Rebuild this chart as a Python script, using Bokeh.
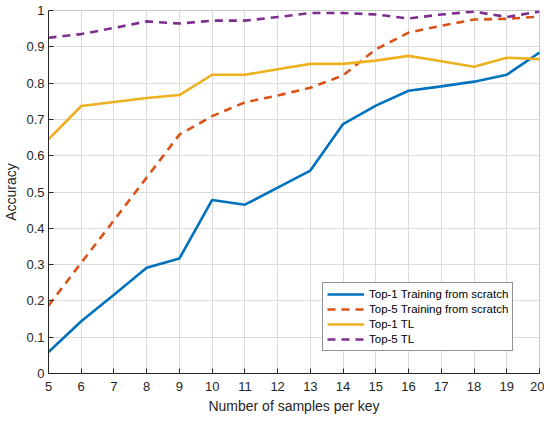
from bokeh.plotting import figure
from bokeh.models import Legend, LegendItem, FixedTicker, Range1d
from bokeh.embed import file_html
from bokeh.resources import INLINE

samples = [5, 6, 7, 8, 9, 10, 11, 12, 13, 14, 15, 16, 17, 18, 19, 20]
top1_scratch = [0.059, 0.144, 0.217, 0.291, 0.317, 0.478, 0.465, 0.512, 0.559, 0.687, 0.738, 0.779, 0.791, 0.804, 0.823, 0.884]
top5_scratch = [0.187, 0.305, 0.422, 0.540, 0.658, 0.709, 0.747, 0.766, 0.787, 0.821, 0.893, 0.939, 0.958, 0.975, 0.977, 0.983]
top1_tl = [0.645, 0.737, 0.748, 0.759, 0.767, 0.823, 0.823, 0.838, 0.853, 0.853, 0.862, 0.875, 0.860, 0.845, 0.870, 0.866]
top5_tl = [0.925, 0.935, 0.952, 0.970, 0.964, 0.972, 0.972, 0.982, 0.993, 0.993, 0.989, 0.978, 0.989, 0.997, 0.982, 0.997]
labels = ["Top-1 Training from scratch", "Top-5 Training from scratch", "Top-1 TL", "Top-5 TL"]
colors = ["#0072BD", "#D95319", "#EDB120", "#7E2F8E"]
dashes = ["solid", "8 6", "solid", "8 6"]

FONT = "Liberation Sans"

p = figure(frame_width=491, frame_height=363, output_backend="svg", toolbar_location=None,
           x_range=Range1d(5, 20), y_range=Range1d(0, 1),
           min_border_left=0, min_border_right=5, min_border_top=10, min_border_bottom=0)

series = [top1_scratch, top5_scratch, top1_tl, top5_tl]
renderers = []
for ys, c, d in zip(series, colors, dashes):
    r = p.line(samples, ys, line_color=c, line_width=2.6, line_dash=d)
    renderers.append(r)

legend = Legend(items=[LegendItem(label=l, renderers=[r]) for l, r in zip(labels, renderers)],
                location=(274, 22))
legend.label_text_font = FONT
legend.label_text_font_size = "11.5px"
legend.label_text_color = "#000000"
legend.label_height = 14
legend.glyph_height = 14
legend.glyph_width = 37
legend.spacing = 1
legend.padding = 4
legend.margin = 0
legend.label_standoff = 5
legend.border_line_color = "#262626"
legend.border_line_width = 1
legend.background_fill_color = "white"
p.add_layout(legend, "center")

p.xaxis.ticker = FixedTicker(ticks=samples)
p.yaxis.ticker = FixedTicker(ticks=[i / 10 for i in range(11)])
p.yaxis.major_label_overrides = {0: "0", 1: "1"}
for ax in (p.xaxis[0], p.yaxis[0]):
    ax.major_tick_in = 5
    ax.major_tick_out = 0
    ax.minor_tick_line_color = None
    ax.axis_line_color = "#262626"
    ax.major_tick_line_color = "#262626"
    ax.major_label_text_font = FONT
    ax.major_label_text_font_size = "13px"
    ax.major_label_text_color = "#262626"
    ax.axis_label_text_font = FONT
    ax.axis_label_text_font_size = "14px"
    ax.axis_label_text_font_style = "normal"
    ax.axis_label_text_color = "#262626"
p.xaxis.axis_label = "Number of samples per key"
p.yaxis.axis_label = "Accuracy"
p.xaxis.major_label_standoff = 8
p.yaxis.major_label_standoff = 4
p.xaxis.axis_label_standoff = 4
p.yaxis.axis_label_standoff = 4

p.xgrid.grid_line_color = "#dcdcdc"
p.ygrid.grid_line_color = "#dcdcdc"
p.outline_line_color = "#c8c8c8"
p.outline_line_width = 1

open("out.html", "w").write(file_html(p, INLINE))
